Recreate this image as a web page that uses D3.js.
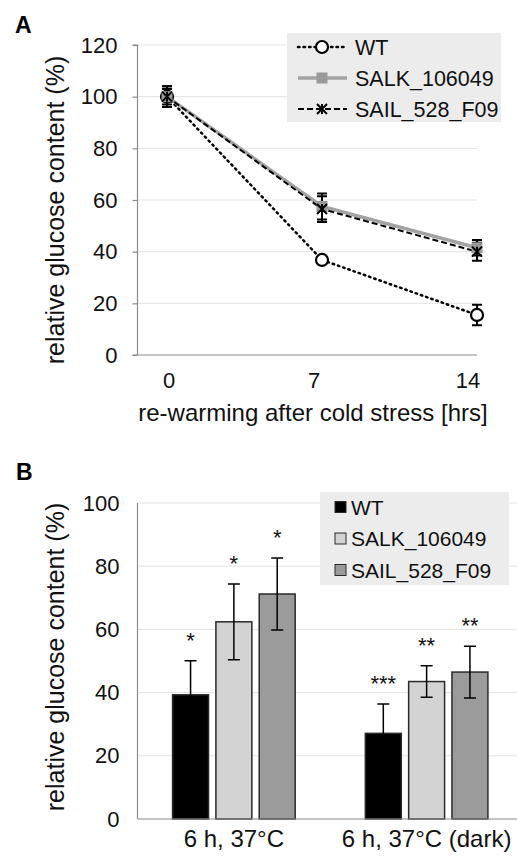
<!DOCTYPE html>
<html>
<head>
<meta charset="utf-8">
<script src="https://cdn.jsdelivr.net/npm/d3@7"></script>
<style>
  body { margin: 0; background: #fff; }
  svg { display: block; font-family: "Liberation Sans", Arial, sans-serif; }
</style>
</head>
<body>
<svg id="chart" width="517" height="860"></svg>
<script>
// ---- panel A data: glucose after re-warming ----
const hoursA = [0, 7, 14];
const seriesA = ["WT", "SALK_106049", "SAIL_528_F09"];
const wtA = [100, 36.8, 15.5];
const wtErrA = [4, 1.2, 4];
const salkA = [100, 57.5, 41.5];
const salkErrA = [3, 5, 3];
const sailA = [100, 56.5, 40];
const sailErrA = [4, 5, 3.5];
const yTicksA = [0, 20, 40, 60, 80, 100, 120];

// ---- panel B data: glucose after heat ----
const conditionsB = ["6 h, 37°C", "6 h, 37°C (dark)"];
const seriesB = ["WT", "SALK_106049", "SAIL_528_F09"];
const wtB = [39.3, 27.1];
const wtErrB = [10.8, 9.3];
const salkB = [62.4, 43.5];
const salkErrB = [12, 5];
const sailB = [71.2, 46.5];
const sailErrB = [11.4, 8.2];
const starsB = [["*", "*", "*"], ["***", "**", "**"]];
const yTicksB = [0, 20, 40, 60, 80, 100];

const axisColor = "#8c8c8c";
const gridColor = "#e3e3e3";
const legendFill = "#ececec";
const textColor = "#111";

const svg = d3.select("#chart");

/**
 * Draws a cross marker (x with a short vertical stroke)
 */
function drawCross(g, cx, cy, size) {
  g.append("path")
    .attr(
      "d",
      `M${cx - size},${cy - size}L${cx + size},${cy + size}` +
        `M${cx - size},${cy + size}L${cx + size},${cy - size}` +
        `M${cx},${cy - size}L${cx},${cy + size}`
    )
    .style("stroke", "#000")
    .style("stroke-width", 2)
    .style("fill", "none");
}

function drawMarker(g, name, cx, cy) {
  if (name === "WT") {
    g.append("circle")
      .attr("cx", cx)
      .attr("cy", cy)
      .attr("r", 6)
      .style("fill", "#fff")
      .style("stroke", "#000")
      .style("stroke-width", 2.2);
  } else if (name === "SALK_106049") {
    g.append("rect")
      .attr("x", cx - 5.5)
      .attr("y", cy - 5.5)
      .attr("width", 11)
      .attr("height", 11)
      .style("fill", "#9a9a9a");
  } else {
    drawCross(g, cx, cy, 5);
  }
}

// ================= PANEL A =================
const xA = d3.scaleLinear().domain([0, 14]).range([167, 477]);
const yA = d3.scaleLinear().domain([0, 120]).range([355, 45]);
const leftA = 137.5;

const gA = svg.append("g");

gA.append("text")
  .attr("x", 15)
  .attr("y", 33)
  .style("font-size", "23px")
  .style("font-weight", "bold")
  .text("A");

// gridlines
gA.selectAll(".gridA")
  .data(yTicksA.filter((d) => d > 0))
  .enter()
  .append("line")
  .attr("x1", leftA)
  .attr("x2", 477)
  .attr("y1", (d) => yA(d))
  .attr("y2", (d) => yA(d))
  .style("stroke", gridColor)
  .style("stroke-width", 1);

// y axis
const yAxisA = gA
  .append("g")
  .attr("transform", `translate(${leftA},0)`)
  .call(d3.axisLeft(yA).tickValues(yTicksA).tickSize(5).tickPadding(15));
yAxisA.select(".domain").attr("d", `M-5,${yA(120)}H0V${yA(0)}`);

// x axis line, crossing a little left of the y axis
gA.append("line")
  .attr("x1", leftA - 5)
  .attr("x2", 477)
  .attr("y1", yA(0))
  .attr("y2", yA(0))
  .style("stroke", axisColor)
  .style("stroke-width", 1.2);

gA.selectAll(".xlabA")
  .data(hoursA)
  .enter()
  .append("text")
  .attr("x", (d, i) => xA(d) + [2, -8, -9][i])
  .attr("y", 388)
  .attr("text-anchor", "middle")
  .style("font-size", "22px")
  .style("fill", textColor)
  .text((d) => d);

gA.append("text")
  .attr("x", 313)
  .attr("y", 421)
  .attr("text-anchor", "middle")
  .style("font-size", "24px")
  .style("fill", textColor)
  .text("re-warming after cold stress [hrs]");

gA.append("text")
  .attr("transform", `translate(64,210) rotate(-90)`)
  .attr("text-anchor", "middle")
  .style("font-size", "25px")
  .style("fill", textColor)
  .text("relative glucose content (%)");

const linesA = [
  { name: "WT", values: wtA, errs: wtErrA, color: "#000", width: 2.5, dash: "1.5,4" },
  { name: "SALK_106049", values: salkA, errs: salkErrA, color: "#a3a3a3", width: 3.5, dash: null },
  { name: "SAIL_528_F09", values: sailA, errs: sailErrA, color: "#000", width: 2, dash: "6,3" },
];

const lineGen = d3
  .line()
  .x((d) => xA(d[0]))
  .y((d) => yA(d[1]));

linesA.forEach((s) => {
  gA.append("path")
    .datum(hoursA.map((h, i) => [h, s.values[i]]))
    .attr("d", lineGen)
    .style("fill", "none")
    .style("stroke", s.color)
    .style("stroke-width", s.width)
    .style("stroke-linecap", s.name === "WT" ? "round" : "butt")
    .style("stroke-dasharray", s.dash);
});

// error bars
linesA.forEach((s) => {
  hoursA.forEach((h, i) => {
    const cx = xA(h);
    const top = yA(s.values[i] + s.errs[i]);
    const bottom = yA(s.values[i] - s.errs[i]);
    gA.append("path")
      .attr("d", `M${cx},${top}V${bottom}M${cx - 5},${top}H${cx + 5}M${cx - 5},${bottom}H${cx + 5}`)
      .style("stroke", "#000")
      .style("stroke-width", 2)
      .style("fill", "none");
  });
});

linesA.forEach((s) => {
  hoursA.forEach((h, i) => drawMarker(gA, s.name, xA(h), yA(s.values[i])));
});

// legend A
const legA = gA.append("g");
legA.append("rect")
  .attr("x", 287)
  .attr("y", 33)
  .attr("width", 214)
  .attr("height", 89)
  .style("fill", legendFill);

linesA.forEach((s, i) => {
  const ly = 47 + i * 31;
  legA.append("line")
    .attr("x1", 298)
    .attr("x2", 347)
    .attr("y1", ly)
    .attr("y2", ly)
    .style("stroke", s.color)
    .style("stroke-width", s.width)
    .style("stroke-linecap", s.name === "WT" ? "round" : "butt")
    .style("stroke-dasharray", s.dash);
  drawMarker(legA, s.name, 322, ly);
  legA.append("text")
    .attr("x", 355)
    .attr("y", ly + 7.5)
    .style("font-size", "21.5px")
    .style("fill", textColor)
    .text(seriesA[i]);
});

// ================= PANEL B =================
const yB = d3.scaleLinear().domain([0, 100]).range([819, 503]);
const x0B = d3.scaleBand().domain(conditionsB).range([137.5, 523]).padding(0);
const x1B = d3
  .scaleBand()
  .domain(seriesB)
  .range([0, x0B.bandwidth()])
  .paddingInner(0.17)
  .paddingOuter(0.81);

const barValues = [wtB, salkB, sailB];
const barErrs = [wtErrB, salkErrB, sailErrB];
const barColors = ["#000", "#d3d3d3", "#9b9b9b"];

const gB = svg.append("g");

gB.append("text")
  .attr("x", 16)
  .attr("y", 480)
  .style("font-size", "23px")
  .style("font-weight", "bold")
  .text("B");

gB.selectAll(".gridB")
  .data(yTicksB.filter((d) => d > 0))
  .enter()
  .append("line")
  .attr("x1", 137.5)
  .attr("x2", 517)
  .attr("y1", (d) => yB(d))
  .attr("y2", (d) => yB(d))
  .style("stroke", gridColor)
  .style("stroke-width", 1);

const yAxisB = gB
  .append("g")
  .attr("transform", "translate(137.5,0)")
  .call(d3.axisLeft(yB).tickValues(yTicksB).tickSize(0).tickPadding(18));
yAxisB.select(".domain").attr("d", `M0,${yB(100)}V${yB(0)}`);

gB.append("text")
  .attr("transform", `translate(64,657) rotate(-90)`)
  .attr("text-anchor", "middle")
  .style("font-size", "25px")
  .style("fill", textColor)
  .text("relative glucose content (%)");

conditionsB.forEach((c, ci) => {
  const groupX = x0B(c);
  seriesB.forEach((s, si) => {
    const v = barValues[si][ci];
    const e = barErrs[si][ci];
    const bx = groupX + x1B(s);
    const bw = x1B.bandwidth();
    const cx = bx + bw / 2;

    gB.append("rect")
      .attr("x", bx)
      .attr("y", yB(v))
      .attr("width", bw)
      .attr("height", yB(0) - yB(v))
      .style("fill", barColors[si])
      .style("stroke", "#2a2a2a")
      .style("stroke-width", 1.5);

    gB.append("path")
      .attr(
        "d",
        `M${cx},${yB(v + e)}V${yB(v - e)}` +
          `M${cx - 6},${yB(v + e)}H${cx + 6}M${cx - 6},${yB(v - e)}H${cx + 6}`
      )
      .style("stroke", "#000")
      .style("stroke-width", 1.5)
      .style("fill", "none");

    gB.append("text")
      .attr("x", cx)
      .attr("y", yB(v + e) - 13)
      .attr("text-anchor", "middle")
      .style("font-size", "22px")
      .style("fill", textColor)
      .text(starsB[ci][si]);
  });

  gB.append("text")
    .attr("x", groupX + x0B.bandwidth() / 2)
    .attr("y", 847)
    .attr("text-anchor", "middle")
    .style("font-size", "24px")
    .style("fill", textColor)
    .text(c);
});

// x axis line
gB.append("line")
  .attr("x1", 137.5)
  .attr("x2", 517)
  .attr("y1", yB(0))
  .attr("y2", yB(0))
  .style("stroke", axisColor)
  .style("stroke-width", 1.2);

// legend B
const legB = gB.append("g");
legB.append("rect")
  .attr("x", 320)
  .attr("y", 492)
  .attr("width", 189)
  .attr("height", 93)
  .style("fill", legendFill);

seriesB.forEach((s, i) => {
  const ly = 507 + i * 31.5;
  legB.append("rect")
    .attr("x", 335)
    .attr("y", ly - 5.5)
    .attr("width", 11)
    .attr("height", 11)
    .style("fill", barColors[i])
    .style("stroke", "#2a2a2a")
    .style("stroke-width", 1);
  legB.append("text")
    .attr("x", 351)
    .attr("y", ly + 7.5)
    .style("font-size", "21px")
    .style("fill", textColor)
    .text(s);
});

// shared axis styling
svg.selectAll(".domain").style("stroke", axisColor).style("stroke-width", 1.2);
svg.selectAll(".tick line").style("stroke", axisColor).style("stroke-width", 1.2);
svg.selectAll(".tick text")
  .style("font-size", "22px")
  .style("fill", textColor)
  .style("font-family", "Liberation Sans, Arial, sans-serif");
</script>
</body>
</html>
